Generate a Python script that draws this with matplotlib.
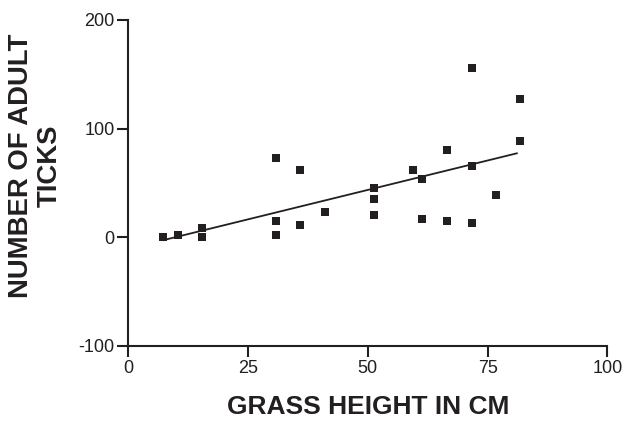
import numpy as np
import matplotlib.pyplot as plt

# grass height (cm) and adult tick counts per plot
grass_cm = [7.3, 10.4, 15.4, 15.4, 30.8, 30.8, 30.8, 35.9, 35.9, 41.0,
            51.2, 51.2, 51.2, 59.4, 61.4, 61.4, 66.5, 66.5,
            71.7, 71.7, 71.7, 76.8, 81.8, 81.8]
ticks = [0, 1.5, 8.6, 0, 73, 15.3, 2, 62, 11, 23,
         45, 35, 20, 62.2, 53.3, 16.3, 80.3, 15.3,
         156.2, 65.6, 12.6, 39.2, 127.5, 88.2]

# regression line as drawn
fit_x = [7.3, 81.1]
fit_y = [-2.8, 77.2]

ink = '#231f20'
plt.rcParams['font.family'] = ['Liberation Sans', 'DejaVu Sans']
plt.rcParams['axes.unicode_minus'] = False

fig = plt.figure(figsize=(6.34, 4.21), dpi=100)
ax = fig.add_axes([0.2024, 0.1789, 0.7556, 0.7736])

ax.plot(grass_cm, ticks, 's', color=ink, markersize=5.3, markeredgewidth=0)
ax.plot(fit_x, fit_y, '-', color=ink, linewidth=1.3)

ax.set_xlim(0, 100)
ax.set_ylim(-100, 200)
ax.set_xticks([0, 25, 50, 75, 100])
ax.set_yticks([-100, 0, 100, 200])

for side in ('top', 'right'):
    ax.spines[side].set_visible(False)
for side in ('left', 'bottom'):
    ax.spines[side].set_linewidth(1.5)
    ax.spines[side].set_color(ink)
ax.tick_params(axis='both', colors=ink, width=1.5, length=8, labelsize=13, pad=2)
ax.tick_params(axis='both', labelcolor=ink)

ax.set_xlabel('GRASS HEIGHT IN CM', fontsize=19, fontweight='bold', color=ink, labelpad=13)
ax.set_ylabel('NUMBER OF ADULT\nTICKS', fontsize=19.8, fontweight='bold', color=ink,
              linespacing=1.12)
ax.yaxis.set_label_coords(-0.137, 0.552)

fig.savefig('out.png', dpi=100)
